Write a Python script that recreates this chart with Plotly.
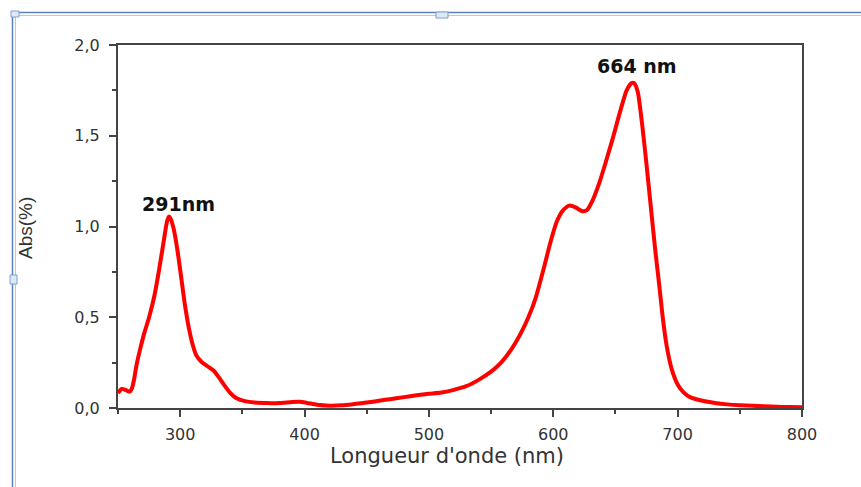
import plotly.graph_objects as go

# UV-Vis absorption spectrum
wavelength_nm = [250, 253, 256, 259, 261, 263, 265, 268, 271, 275, 279, 283, 287, 289.5,
                 291, 292.5, 295, 298, 301, 304, 307, 310, 313, 317, 322, 327, 331, 335,
                 340, 345, 352, 360, 370, 380, 390, 396, 402, 410, 420, 430, 440, 450,
                 460, 470, 480, 490, 500, 510, 520, 530, 540, 550, 558, 566, 573, 580,
                 586, 592, 598, 603, 608, 613, 618, 623, 627, 632, 637, 642, 648, 654, 659,
                 663, 665, 668, 671.5, 675, 679, 682, 685, 688, 691, 695, 700, 705, 710,
                 720, 730, 740, 750, 760, 770, 780, 790, 800]
absorbance = [0.082, 0.105, 0.100, 0.090, 0.105, 0.16, 0.24, 0.33, 0.41, 0.50, 0.61, 0.76,
              0.93, 1.03, 1.055, 1.04, 0.98, 0.86, 0.71, 0.56, 0.44, 0.35, 0.29, 0.255,
              0.23, 0.205, 0.17, 0.13, 0.085, 0.055, 0.038, 0.03, 0.027, 0.028, 0.033,
              0.034, 0.028, 0.018, 0.013, 0.015, 0.022, 0.03, 0.04, 0.05, 0.06, 0.07,
              0.078, 0.085, 0.10, 0.12, 0.155, 0.20, 0.25, 0.32, 0.40, 0.50, 0.61, 0.76,
              0.92, 1.03, 1.09, 1.115, 1.105, 1.085, 1.09, 1.15, 1.24, 1.35, 1.49, 1.64,
              1.75, 1.79, 1.79, 1.74, 1.56, 1.34, 1.07, 0.87, 0.69, 0.50, 0.35, 0.22,
              0.13, 0.085, 0.06, 0.04, 0.028, 0.02, 0.015, 0.012, 0.009, 0.007, 0.005,
              0.004]

x_ticks = [300, 400, 500, 600, 700, 800]
y_ticks = [0.0, 0.5, 1.0, 1.5, 2.0]
y_tick_labels = ["0,0", "0,5", "1,0", "1,5", "2,0"]

peak_labels = ["291nm", "664 nm"]
peak_positions = [(291, 1.055), (664, 1.79)]

W, H = 861, 487
ML, MR, MT, MB = 118, 59, 45, 79


def px(xp):
    return (xp - ML) / (W - ML - MR)


def py(yp):
    return (H - MB - yp) / (H - MT - MB)


fig = go.Figure()
fig.add_trace(go.Scatter(
    x=wavelength_nm, y=absorbance, mode="lines",
    line=dict(color="#ff0000", width=4, shape="spline", smoothing=0.6),
    hoverinfo="skip", showlegend=False,
))

tick_font = dict(family="DejaVu Sans", size=16, color="#333333")

fig.update_xaxes(
    range=[250, 800], tickvals=x_ticks, ticks="outside", ticklen=7, tickwidth=2,
    tickcolor="#444444", showline=True, linewidth=2, linecolor="#444444",
    mirror=True, showgrid=False, zeroline=False, tickfont=tick_font,
    ticklabelstandoff=4,
    minor=dict(tickvals=[250, 350, 450, 550, 650, 750], ticks="outside",
               ticklen=4, tickwidth=2, tickcolor="#444444", showgrid=False),
)
fig.update_yaxes(
    range=[0, 2.0], tickvals=y_ticks, ticktext=y_tick_labels, ticks="outside",
    ticklen=7, tickwidth=2, tickcolor="#444444", showline=True, linewidth=2,
    linecolor="#444444", mirror=True, showgrid=False, zeroline=False,
    tickfont=tick_font, ticklabelstandoff=6,
    minor=dict(tickvals=[0.25, 0.75, 1.25, 1.75], ticks="outside", ticklen=4,
               tickwidth=2, tickcolor="#444444", showgrid=False),
)

annotations = []
label_x_px = [178, 637]
label_shift = [13, 17]
for text, (xv, yv), lx, sh in zip(peak_labels, peak_positions, label_x_px, label_shift):
    annotations.append(dict(
        x=px(lx), y=yv, xref="paper", yref="y", text=f"<b>{text}</b>", showarrow=False,
        xanchor="center", yanchor="middle", yshift=sh,
        font=dict(family="DejaVu Sans", size=19, color="#111111"),
    ))
annotations.append(dict(
    x=px(447), y=py(456), xref="paper", yref="paper", text="Longueur d'onde (nm)",
    showarrow=False, xanchor="center", yanchor="middle",
    font=dict(family="DejaVu Sans", size=21, color="#333333"),
))
annotations.append(dict(
    x=px(25), y=py(228), xref="paper", yref="paper", text="Abs(%)", textangle=-90,
    showarrow=False, xanchor="center", yanchor="middle",
    font=dict(family="Liberation Sans", size=19, color="#333333"),
))

# Document frame around the figure
shapes = [
    dict(type="line", xref="paper", yref="paper", x0=px(12), x1=px(W), y0=py(12.5), y1=py(12.5),
         line=dict(color="#5b7fc0", width=1.5)),
    dict(type="line", xref="paper", yref="paper", x0=px(15), x1=px(W), y0=py(15.5), y1=py(15.5),
         line=dict(color="#b5c8e6", width=1)),
    dict(type="line", xref="paper", yref="paper", x0=px(12.5), x1=px(12.5), y0=py(12), y1=py(H),
         line=dict(color="#5b7fc0", width=1.5)),
    dict(type="line", xref="paper", yref="paper", x0=px(15.5), x1=px(15.5), y0=py(15), y1=py(H),
         line=dict(color="#b5c8e6", width=1)),
    dict(type="rect", xref="paper", yref="paper", x0=px(436), x1=px(448), y0=py(12), y1=py(18),
         fillcolor="#dbeaf6", line=dict(color="#7fa0c8", width=1)),
    dict(type="rect", xref="paper", yref="paper", x0=px(10), x1=px(17), y0=py(275), y1=py(284),
         fillcolor="#dbeaf6", line=dict(color="#7fa0c8", width=1)),
    dict(type="rect", xref="paper", yref="paper", x0=px(11), x1=px(19), y0=py(11), y1=py(17),
         fillcolor="#dbeaf6", line=dict(color="#7fa0c8", width=1)),
]

fig.update_layout(
    width=W, height=H, margin=dict(l=ML, r=MR, t=MT, b=MB),
    paper_bgcolor="white", plot_bgcolor="white",
    annotations=annotations, shapes=shapes,
)

fig.write_html("out.html")
